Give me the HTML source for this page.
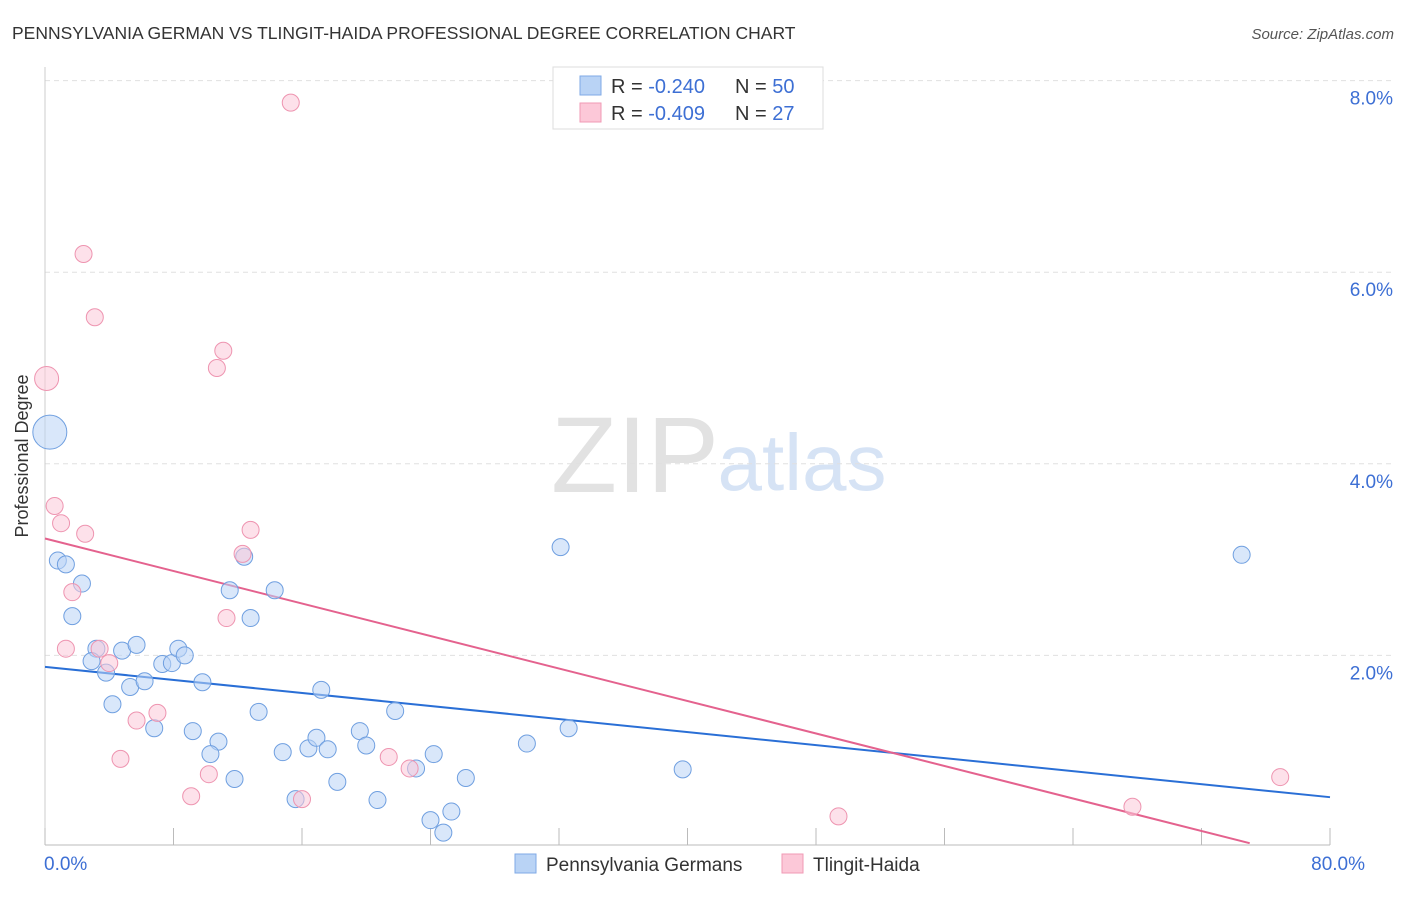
<!DOCTYPE html>
<html><head><meta charset="utf-8"><style>
body{margin:0;background:#fff;font-family:"Liberation Sans",sans-serif;}
svg text{font-family:"Liberation Sans",sans-serif;}
</style></head><body>
<svg id="chart" width="1406" height="892" xmlns="http://www.w3.org/2000/svg">
<text x="12" y="39" font-size="17.5" fill="#333">PENNSYLVANIA GERMAN VS TLINGIT-HAIDA PROFESSIONAL DEGREE CORRELATION CHART</text>
<text x="1394" y="39" font-size="15" fill="#555" font-style="italic" text-anchor="end">Source: ZipAtlas.com</text>
<g>
<text x="635" y="492" font-size="108" fill="#e2e2e2" font-family="Liberation Serif" text-anchor="middle">ZIP</text>
<text x="802" y="490" font-size="80" fill="#d6e3f5" text-anchor="middle">atlas</text>
</g>
<g id="grid"></g>
<g id="axes"></g>
<g id="lines"></g>
<g id="points"></g>
<text x="28" y="456" font-size="18" fill="#333" transform="rotate(-90 28 456)" text-anchor="middle">Professional Degree</text>
<g>
<rect x="553" y="67" width="270" height="62" fill="#fff" stroke="#ddd"/>
<rect x="580" y="76" width="21" height="19" fill="#b9d3f5" stroke="#7faae6"/>
<rect x="580" y="103" width="21" height="19" fill="#fcc8d8" stroke="#f09ab5"/>
<text x="611" y="93" font-size="20" fill="#333">R = <tspan fill="#3d6fd4">-0.240</tspan></text>
<text x="735" y="93" font-size="20" fill="#333">N = <tspan fill="#3d6fd4">50</tspan></text>
<text x="611" y="120" font-size="20" fill="#333">R = <tspan fill="#3d6fd4">-0.409</tspan></text>
<text x="735" y="120" font-size="20" fill="#333">N = <tspan fill="#3d6fd4"> 27</tspan></text>
</g>
<g>
<rect x="515" y="854" width="21" height="19" fill="#b9d3f5" stroke="#7faae6"/>
<text x="546" y="871" font-size="19" fill="#333">Pennsylvania Germans</text>
<rect x="782" y="854" width="21" height="19" fill="#fcc8d8" stroke="#f09ab5"/>
<text x="813" y="871" font-size="19" fill="#333">Tlingit-Haida</text>
</g>
</svg>
<script>
const blueX=[0.8,1.3,2.3,1.7,3.2,4.8,5.7,2.9,3.8,5.3,6.2,4.2,6.8,7.3,7.9,8.3,8.7,9.8,9.2,10.8,10.3,11.8,11.5,12.4,12.8,14.3,13.3,14.8,15.6,16.4,16.9,17.6,18.2,17.2,19.6,20.0,20.7,21.8,23.1,24.0,24.8,25.3,24.2,26.2,30.0,32.1,32.6,39.7,74.5,0.3];
const blueY=[2.99,2.95,2.75,2.41,2.07,2.05,2.11,1.94,1.82,1.67,1.73,1.49,1.24,1.91,1.92,2.07,2.0,1.72,1.21,1.10,0.97,0.71,2.68,3.03,2.39,2.68,1.41,0.99,0.50,1.03,1.14,1.02,0.68,1.64,1.21,1.06,0.49,1.42,0.82,0.28,0.15,0.37,0.97,0.72,1.08,3.13,1.24,0.81,3.05,4.33];
const blueBig=[49];
const pinkX=[0.1,0.6,1.0,2.5,1.7,1.3,3.4,4.0,4.7,5.7,7.0,9.1,10.2,10.7,11.1,11.3,12.3,12.8,15.3,16.0,21.4,22.7,2.4,3.1,49.4,67.7,76.9];
const pinkY=[4.89,3.56,3.38,3.27,2.66,2.07,2.07,1.92,0.92,1.32,1.40,0.53,0.76,5.0,5.18,2.39,3.06,3.31,7.77,0.50,0.94,0.82,6.19,5.53,0.32,0.42,0.73];
const pinkBig=[0];
const blueTrend=[[0,1.88],[80,0.52]];
const pinkTrend=[[0,3.22],[75,0.04]];
const yTicks=[2,4,6,8];
const xTickVals=[0,8,16,24,32,40,48,56,64,72,80];
const xLabels=[[0,"0.0%"],[80,"80.0%"]];

const sx=v=>45+v*(1330-45)/80;
const sy=v=>847-v*95.8;
const NS="http://www.w3.org/2000/svg";
function mk(tag,attrs,parent){const e=document.createElementNS(NS,tag);for(const k in attrs)e.setAttribute(k,attrs[k]);document.getElementById(parent).appendChild(e);return e;}

yTicks.forEach(t=>{
  const l=mk('line',{x1:45,x2:1394,y1:sy(t),y2:sy(t),stroke:'#e0e0e0','stroke-dasharray':'5,4'},'grid');
  
  
  const tx=mk('text',{x:1393,y:sy(t)+24,'font-size':19,fill:'#3d6fd4','text-anchor':'end'},'grid');
  tx.textContent=t.toFixed(1)+'%';
  
  
});
const ya=mk('line',{x1:45,x2:45,y1:67,y2:845,stroke:'#ccc'},'axes');


const xa=mk('line',{x1:45,x2:1330,y1:845,y2:845,stroke:'#bbb'},'axes');


xTickVals.forEach(v=>{
  const t=mk('line',{x1:sx(v),x2:sx(v),y1:828,y2:845,stroke:'#bbb'},'axes');
  
  
});
xLabels.forEach(([v,s],i)=>{
  const t=mk('text',{x:i?sx(v)+35:sx(v)-1,y:870,'font-size':19,fill:'#3d6fd4','text-anchor':i?'end':'start'},'axes');
  t.textContent=s;
  
  
});
function pts(X,Y,big,bigR,fill,stroke,name){
  X.forEach((x,i)=>{
    const c=mk('circle',{cx:sx(x),cy:sy(Y[i]),r:big.includes(i)?bigR:8.5,fill:fill,'fill-opacity':0.55,stroke:stroke,'stroke-width':1},'points');
    
    
  });
}
pts(blueX,blueY,blueBig,17,'#b9d3f5','#6f9fe0','pennsylvania-point');
pts(pinkX,pinkY,pinkBig,12,'#fcc8d8','#ee94b0','tlingit-point');
const bl=mk('line',{x1:sx(blueTrend[0][0]),y1:sy(blueTrend[0][1]),x2:sx(blueTrend[1][0]),y2:sy(blueTrend[1][1]),stroke:'#2a6fd6','stroke-width':2},'lines');


const pl=mk('line',{x1:sx(pinkTrend[0][0]),y1:sy(pinkTrend[0][1]),x2:sx(pinkTrend[1][0]),y2:sy(pinkTrend[1][1]),stroke:'#e4628e','stroke-width':2},'lines');


</script>
</body></html>
